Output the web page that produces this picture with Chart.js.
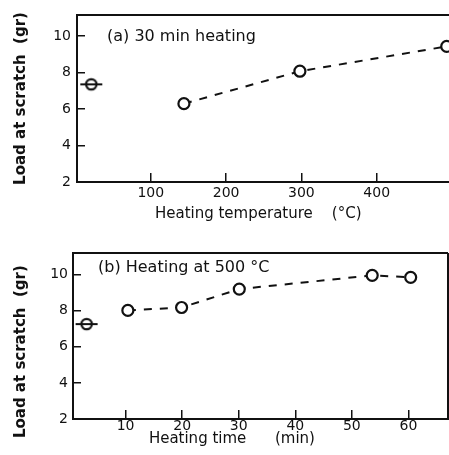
<!DOCTYPE html>
<html>
<head>
<meta charset="utf-8">
<script src="https://cdn.jsdelivr.net/npm/chart.js@4/dist/chart.umd.min.js"></script>
<style>
  body { margin: 0; background: #fff; }
  #wrap { position: relative; width: 449px; height: 455px; overflow: hidden; }
  .box { position: absolute; left: 0; width: 449px; }
</style>
</head>
<body>
<div id="wrap">
  <div class="box" style="top:0;height:228px"><canvas id="chartA"></canvas></div>
  <div class="box" style="top:228px;height:227px"><canvas id="chartB"></canvas></div>
</div>
<script>
// (a) 30 min heating -- load vs heating temperature
const tempUnheated = [21];
const loadUnheatedA = [7.35];
const tempHeated = [144, 298, 493];
const loadHeatedA = [6.29, 8.07, 9.43];
const tempTicks = [100, 200, 300, 400];

// (b) heating at 500 C -- load vs heating time
const timeUnheated = [3.1];
const loadUnheatedB = [7.26];
const timeHeated = [10.4, 19.9, 30.1, 53.6, 60.4];
const loadHeatedB = [8.02, 8.18, 9.2, 9.96, 9.85];
const timeTicks = [10, 20, 30, 40, 50, 60];

const loadTicks = [2, 4, 6, 8, 10];

const ink = '#111';
const fontFam = '"DejaVu Sans", sans-serif';

// open circle with a horizontal bar through it (unheated reference point)
function barCircle() {
  let c = document.createElement('canvas');
  c.width = 24; c.height = 16;
  let g = c.getContext('2d');
  g.strokeStyle = ink;
  g.lineWidth = 2.2;
  g.fillStyle = '#fff';
  g.beginPath();
  g.arc(12, 8, 5.2, 0, Math.PI * 2);
  g.fill();
  g.stroke();
  g.lineWidth = 2;
  g.beginPath();
  g.moveTo(1, 8);
  g.lineTo(23, 8);
  g.stroke();
  return c;
}

function pairs(xs, ys) {
  return xs.map((x, i) => ({x: x, y: ys[i]}));
}

// frame around the plot area + label written inside it
const framePlugin = {
  id: 'frame',
  afterDatasetsDraw(chart, args, opts) {
    let a = chart.chartArea;
    let ctx = chart.ctx;
    ctx.save();
    ctx.strokeStyle = ink;
    ctx.lineWidth = 2;
    ctx.beginPath();
    ctx.moveTo(a.right, a.top);
    ctx.lineTo(a.left, a.top);
    ctx.lineTo(a.left, a.bottom);
    ctx.lineTo(a.right, a.bottom);
    if (opts.right) ctx.lineTo(a.right, a.top);
    ctx.stroke();
    ctx.fillStyle = ink;
    ctx.font = '16px ' + fontFam;
    ctx.textBaseline = 'middle';
    ctx.fillText(opts.label, a.left + opts.lx, a.top + opts.ly);
    ctx.restore();
  }
};

function makeChart(id, cfg) {
  return new Chart(document.getElementById(id), {
    type: 'scatter',
    data: {
      datasets: [{
        data: cfg.ref,
        pointStyle: barCircle(),
        showLine: false
      }, {
        data: cfg.heated,
        showLine: true,
        borderColor: ink,
        borderWidth: 2,
        borderDash: [8, 8],
        pointRadius: 5.5,
        pointBorderWidth: 2.2,
        pointBorderColor: ink,
        pointBackgroundColor: '#fff'
      }]
    },
    options: {
      responsive: true,
      maintainAspectRatio: false,
      animation: false,
      layout: { padding: cfg.pad, autoPadding: false },
      plugins: {
        legend: { display: false },
        tooltip: { enabled: false },
        frame: { label: cfg.label, lx: cfg.lx, ly: cfg.ly, right: cfg.rightBorder }
      },
      scales: {
        x: {
          min: cfg.xmin, max: cfg.xmax,
          border: { display: false },
          grid: { drawOnChartArea: false, tickLength: -9, color: ink, lineWidth: 1.5 },
          afterBuildTicks: s => { s.ticks = cfg.xTicks.map(v => ({value: v})); },
          afterFit: s => { s.height = cfg.xh; s.paddingLeft = 0; s.paddingRight = 0; },
          ticks: { color: ink, padding: cfg.xpad, font: { family: fontFam, size: 14 } },
          title: { display: true, text: cfg.xTitle, color: ink,
                   padding: { top: 0, bottom: cfg.xtb }, font: { family: fontFam, size: 15 } }
        },
        y: {
          min: 2, max: cfg.ymax,
          border: { display: false },
          grid: { drawOnChartArea: false, tickLength: -8, color: ink, lineWidth: 1.5 },
          afterBuildTicks: s => { s.ticks = loadTicks.map(v => ({value: v})); },
          afterFit: s => { s.width = cfg.yw; s.paddingTop = 0; s.paddingBottom = 0; },
          ticks: { color: ink, padding: cfg.ypad, font: { family: fontFam, size: 14 } },
          title: { display: true, text: cfg.yTitle, color: ink,
                   padding: { top: 12, bottom: 0 }, font: { family: fontFam, size: 15, weight: 'bold' } }
        }
      }
    },
    plugins: [framePlugin]
  });
}

makeChart('chartA', {
  ref: pairs(tempUnheated, loadUnheatedA),
  heated: pairs(tempHeated, loadHeatedA),
  xTicks: tempTicks,
  xmin: 2, xmax: 496, ymax: 11.15,
  pad: { top: 15, left: 0, right: 0, bottom: 0 },
  xh: 46, yw: 77, xpad: 12, ypad: 14, xtb: 5,
  xTitle: 'Heating temperature    (\u00b0C)  ',
  yTitle: 'Load at scratch  (gr)',
  label: '(a) 30 min heating', lx: 30, ly: 22, rightBorder: false
});

makeChart('chartB', {
  ref: pairs(timeUnheated, loadUnheatedB),
  heated: pairs(timeHeated, loadHeatedB),
  xTicks: timeTicks,
  xmin: 0.7, xmax: 67, ymax: 11.2,
  pad: { top: 25, left: 0, right: 1, bottom: 0 },
  xh: 36, yw: 73, xpad: 8, ypad: 13, xtb: 7,
  xTitle: 'Heating time      (min)            ',
  yTitle: 'Load at scratch  (gr)      ',
  label: '(b) Heating at 500 \u00b0C', lx: 25, ly: 15, rightBorder: true
});
</script>
</body>
</html>
